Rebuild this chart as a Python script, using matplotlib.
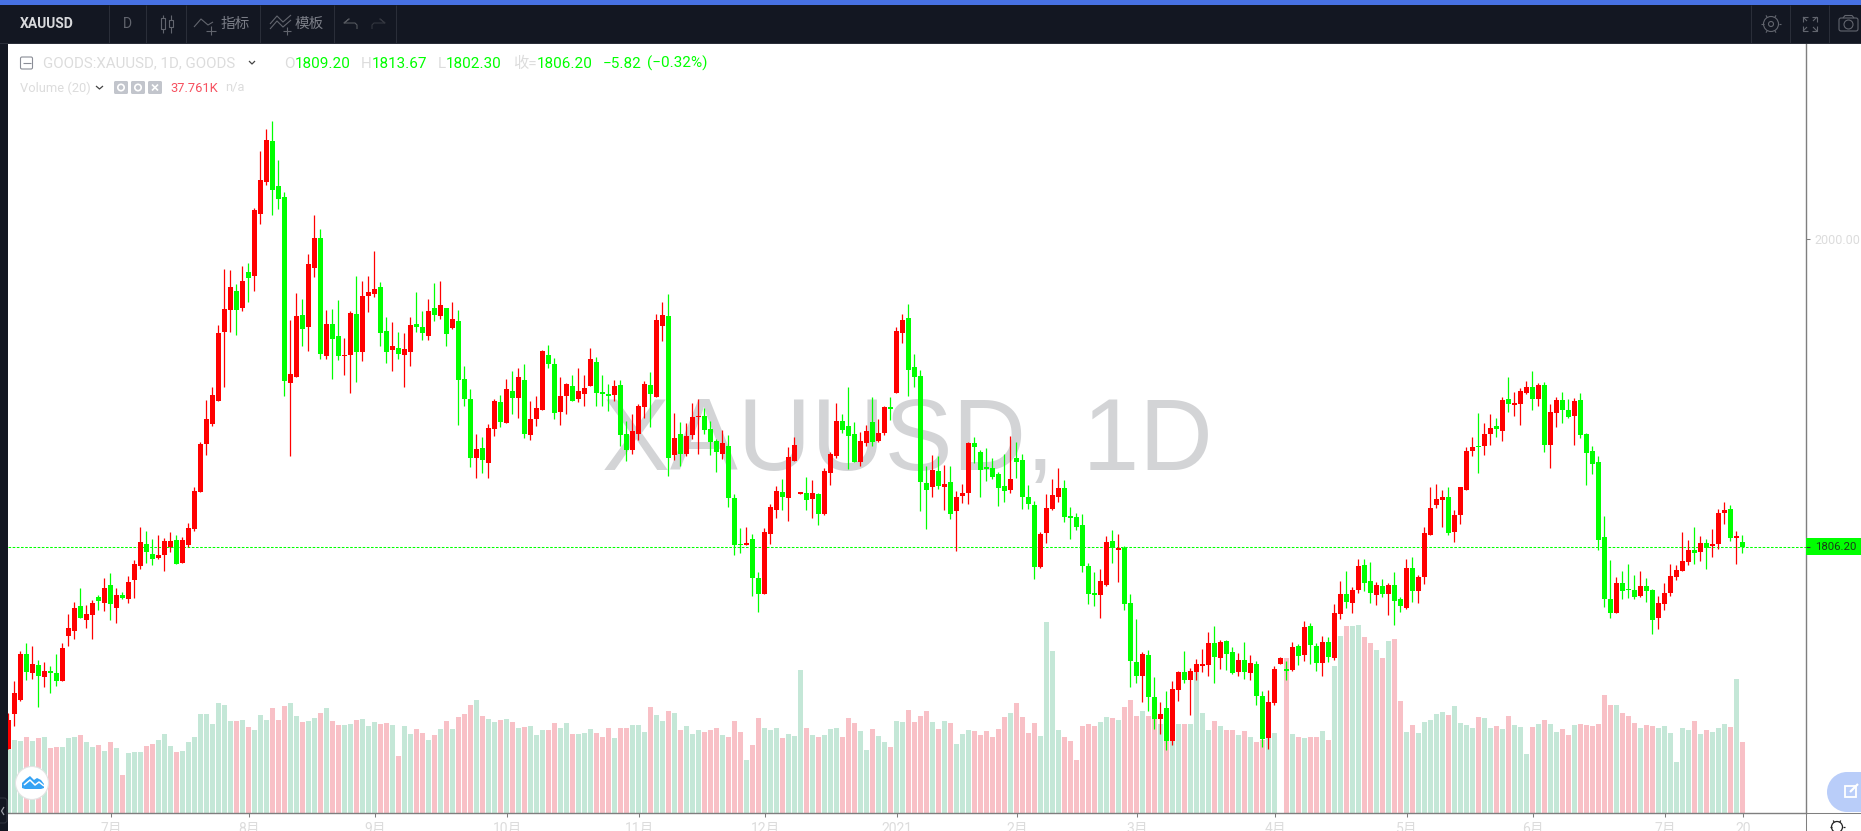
import numpy as np
import matplotlib
matplotlib.use('Agg')
import matplotlib.pyplot as plt
from matplotlib.patches import Circle, Rectangle, Polygon, FancyBboxPatch

plt.rcParams['font.family'] = ['Roboto', 'Noto Sans CJK SC', 'DejaVu Sans']

# XAUUSD daily candles
opens = [
    1678.4,1700.8,1709.6,1738.6,1726.6,1731.6,1724.0,1727.8,1726.6,1721.6,
    1749.8,1753.0,1768.9,1760.1,1763.0,1774.2,1770.7,1782.1,1767.4,1775.7,
    1773.3,1785.1,1793.9,1808.0,1801.5,1799.2,1800.9,1806.2,1810.3,1795.9,
    1807.1,1817.4,1840.6,1870.8,1883.4,1897.8,1941.3,1955.4,1967.1,1956.6,
    1979.2,1976.5,2015.6,2035.9,2061.7,2033.5,2026.5,1909.3,1913.1,1952.2,
    1944.5,1981.8,2000.6,1926.0,1946.6,1939.0,1926.3,1926.9,1952.8,1928.7,
    1964.2,1965.4,1969.8,1942.2,1930.1,1931.3,1926.9,1928.7,1946.6,1944.5,
    1939.0,1956.6,1951.6,1956.6,1943.9,1948.4,1911.7,1899.1,1862.0,1868.3,
    1858.7,1880.2,1897.2,1883.9,1904.0,1899.8,1911.0,1876.5,1886.5,1892.1,
    1926.9,1921.0,1890.9,1901.0,1907.3,1899.1,1902.1,1907.3,1922.4,1903.5,
    1902.1,1901.7,1908.0,1876.9,1866.9,1876.9,1894.0,1908.0,1900.3,1945.1,
    1951.4,1863.8,1876.9,1864.3,1876.5,1887.7,1888.4,1880.2,1872.7,1864.3,
    1869.5,1836.8,1807.8,1807.1,1810.9,1786.4,1776.3,1814.1,1829.1,1840.5,
    1836.8,1860.1,1839.1,1839.8,1836.1,1839.1,1826.7,1852.4,1863.1,1885.3,
    1882.1,1876.9,1859.4,1871.3,1884.6,1872.7,1877.6,1894.0,1902.8,1940.6,
    1950.0,1919.1,1913.6,1846.1,1843.6,1853.6,1843.6,1846.7,1828.6,1838.1,
    1839.9,1871.3,1865.8,1856.2,1855.6,1851.8,1844.3,1841.6,1861.8,1860.7,
    1837.2,1832.3,1793.1,1814.6,1829.7,1837.2,1843.0,1825.2,1824.8,1819.7,
    1793.8,1776.8,1775.6,1781.8,1809.5,1804.0,1805.1,1770.6,1733.4,1724.5,
    1737.8,1711.2,1697.5,1704.4,1683.5,1715.6,1726.9,1722.1,1726.9,1730.9,
    1731.4,1745.3,1735.8,1746.6,1739.6,1726.9,1734.7,1726.5,1732.0,1711.9,
    1685.5,1707.5,1732.0,1728.9,1728.3,1743.3,1737.8,1755.9,1743.3,1732.7,
    1746.0,1735.8,1763.7,1776.1,1770.6,1778.7,1794.4,1784.4,1775.5,1781.2,
    1776.2,1781.8,1773.0,1767.3,1792.5,1778.1,1786.9,1813.3,1832.2,1835.4,
    1837.3,1815.2,1825.9,1841.7,1866.3,1869.4,1869.4,1877.0,1882.0,1878.9,
    1899.0,1895.2,1895.9,1902.8,1906.6,1899.0,1907.8,1870.0,1890.2,1898.4,
    1892.1,1888.3,1898.4,1877.0,1866.3,1859.3,1812.1,1773.0,1764.2,1783.1,
    1779.3,1778.7,1774.9,1781.2,1778.7,1761.0,1769.9,1776.8,1786.9,1790.7,
    1796.3,1803.9,1802.6,1808.3,1806.4,1807.7,1827.2,1829.7,1811.5,1809.2,
]
closes = [
    1696.9,1714.0,1738.6,1727.2,1732.2,1724.6,1727.8,1726.6,1721.6,1742.5,
    1754.8,1767.4,1761.3,1763.6,1770.7,1771.8,1780.1,1770.1,1775.7,1773.9,
    1783.9,1795.3,1809.1,1802.7,1798.3,1800.9,1809.7,1809.7,1795.3,1810.3,
    1817.9,1841.2,1870.8,1886.7,1901.7,1940.7,1956.0,1969.8,1955.4,1973.6,
    1975.4,2018.3,2037.0,2062.3,2030.9,2025.3,1910.5,1914.9,1951.6,1943.4,
    1984.2,2000.6,1927.5,1946.6,1936.9,1926.0,1926.9,1953.3,1928.7,1964.2,
    1966.6,1968.6,1940.7,1928.7,1932.5,1927.5,1930.7,1945.7,1944.5,1940.7,
    1954.5,1952.2,1958.3,1940.1,1949.5,1911.1,1899.1,1862.0,1867.6,1860.6,
    1880.9,1897.7,1884.6,1905.4,1899.8,1912.9,1876.9,1886.5,1893.5,1929.2,
    1921.0,1890.2,1901.0,1908.4,1897.7,1904.0,1906.1,1924.3,1902.8,1902.4,
    1901.2,1907.3,1876.5,1866.9,1879.0,1894.7,1908.4,1902.1,1948.8,1952.1,
    1862.0,1874.6,1864.3,1875.8,1887.7,1888.4,1879.5,1872.0,1865.7,1871.3,
    1836.8,1807.1,1807.1,1808.3,1786.4,1776.3,1815.3,1830.9,1841.2,1837.2,
    1862.4,1870.2,1840.5,1835.4,1839.8,1826.7,1853.8,1864.3,1885.3,1879.5,
    1875.8,1859.4,1872.7,1879.0,1872.0,1877.6,1894.0,1892.8,1941.8,1948.8,
    1917.3,1912.9,1846.7,1841.6,1854.2,1844.3,1845.4,1826.6,1837.2,1839.9,
    1871.3,1868.9,1854.2,1854.9,1849.8,1843.0,1841.2,1848.7,1859.3,1837.2,
    1833.0,1793.1,1813.9,1830.3,1838.5,1843.0,1824.8,1824.1,1818.4,1793.8,
    1776.1,1775.6,1784.3,1808.9,1805.1,1805.1,1769.9,1734.0,1724.5,1738.5,
    1711.2,1697.5,1700.6,1683.5,1716.3,1726.9,1722.1,1727.6,1732.0,1732.0,
    1745.3,1736.5,1746.0,1738.5,1726.5,1734.7,1726.9,1732.7,1711.9,1684.9,
    1708.1,1728.9,1735.8,1727.6,1742.9,1737.1,1755.5,1744.0,1732.7,1746.0,
    1736.5,1764.1,1776.1,1771.2,1778.7,1793.8,1783.1,1776.8,1781.8,1776.2,
    1781.8,1771.8,1768.6,1792.5,1778.1,1786.9,1814.6,1830.4,1836.0,1837.3,
    1814.6,1825.9,1843.6,1866.3,1868.8,1868.8,1877.0,1880.8,1880.1,1898.4,
    1895.9,1896.5,1904.1,1906.6,1899.0,1907.8,1870.0,1890.8,1898.4,1892.1,
    1887.7,1897.8,1876.3,1865.0,1858.1,1810.2,1773.0,1764.2,1783.1,1778.1,
    1778.7,1774.3,1781.2,1778.1,1759.8,1770.5,1776.8,1787.5,1791.3,1797.0,
    1803.9,1802.0,1808.3,1805.1,1807.7,1827.2,1829.1,1811.5,1812.7,1806.2,
]
highs = [
    1701.3,1721.6,1740.4,1745.4,1743.6,1734.5,1733.7,1731.0,1738.6,1745.4,
    1763.6,1771.2,1780.1,1769.5,1772.4,1775.7,1786.5,1789.5,1780.1,1777.7,
    1787.7,1797.7,1818.5,1816.2,1810.9,1813.5,1811.5,1815.3,1813.5,1812.4,
    1820.9,1843.8,1872.0,1898.4,1906.6,1945.7,1981.0,1980.4,1971.8,1983.0,
    1984.8,2019.4,2055.6,2069.4,2074.3,2049.7,2029.7,1948.9,1966.0,1962.2,
    1990.6,2015.0,2006.2,1955.4,1956.0,1961.3,1937.5,1954.5,1976.5,1973.6,
    1976.5,1992.4,1973.0,1951.0,1947.8,1941.3,1940.7,1951.0,1966.6,1954.5,
    1962.2,1972.1,1973.6,1956.6,1960.4,1955.4,1919.9,1905.2,1876.9,1875.1,
    1883.2,1898.9,1901.9,1911.7,1916.6,1918.5,1921.0,1897.7,1901.0,1929.9,
    1933.2,1925.2,1912.9,1909.1,1914.3,1918.5,1914.3,1931.3,1925.5,1914.3,
    1908.4,1911.0,1911.0,1885.3,1889.5,1895.8,1910.3,1916.1,1952.5,1960.2,
    1965.1,1890.2,1884.6,1883.9,1896.5,1899.1,1893.3,1885.3,1873.9,1879.5,
    1876.5,1839.1,1817.9,1818.3,1814.1,1790.1,1817.9,1832.8,1844.2,1848.7,
    1868.8,1875.1,1840.5,1849.8,1848.0,1839.8,1855.7,1865.7,1896.5,1889.5,
    1906.6,1884.6,1878.3,1882.8,1900.3,1886.5,1894.7,1900.3,1944.4,1952.5,
    1958.8,1927.3,1917.3,1856.9,1863.8,1863.1,1857.6,1856.9,1841.2,1845.4,
    1872.0,1875.1,1866.9,1868.2,1861.8,1853.1,1864.4,1875.7,1872.0,1864.4,
    1844.9,1834.8,1815.3,1839.2,1848.7,1855.6,1848.0,1831.0,1827.2,1826.6,
    1795.6,1790.0,1792.0,1812.6,1816.6,1813.9,1806.4,1776.1,1760.4,1739.6,
    1740.9,1723.8,1708.1,1715.0,1721.4,1727.6,1740.2,1729.6,1735.1,1741.6,
    1752.2,1755.9,1747.1,1747.1,1742.9,1739.1,1746.0,1737.8,1734.0,1715.0,
    1715.6,1730.9,1736.5,1734.0,1746.0,1744.7,1759.3,1757.9,1745.3,1749.7,
    1749.1,1769.9,1784.3,1790.7,1780.5,1798.2,1798.2,1796.3,1783.7,1785.6,
    1783.1,1790.0,1774.3,1798.2,1799.5,1788.1,1818.4,1843.6,1845.5,1841.7,
    1843.6,1829.1,1843.6,1868.8,1875.1,1890.2,1883.9,1889.6,1887.1,1900.3,
    1912.9,1903.4,1906.0,1910.4,1916.7,1909.1,1909.7,1895.9,1900.3,1903.4,
    1899.0,1899.7,1902.8,1877.6,1869.4,1863.1,1825.3,1797.6,1786.9,1790.7,
    1795.1,1788.1,1790.7,1786.2,1779.3,1774.9,1783.1,1795.1,1794.4,1815.2,
    1810.2,1818.4,1812.7,1810.8,1817.1,1829.7,1834.1,1832.2,1815.9,1813.67,
]
lows = [
    1678.4,1693.4,1709.0,1722.2,1722.8,1705.2,1717.8,1714.0,1718.1,1721.6,
    1743.6,1748.0,1761.3,1754.8,1748.0,1766.3,1765.7,1760.1,1758.0,1773.0,
    1770.7,1773.9,1792.1,1795.9,1794.7,1798.3,1790.9,1802.7,1795.3,1795.9,
    1806.2,1816.2,1840.6,1864.1,1882.0,1897.8,1906.6,1941.3,1939.5,1954.5,
    1960.4,1967.1,2009.4,2034.1,2015.0,2018.8,1901.1,1863.2,1913.1,1932.5,
    1929.6,1976.0,1924.3,1924.3,1911.9,1923.7,1914.3,1903.1,1909.9,1923.1,
    1953.9,1963.3,1932.5,1921.9,1916.9,1924.3,1906.6,1919.9,1941.3,1936.6,
    1936.6,1948.4,1949.5,1932.5,1943.4,1882.9,1894.7,1856.1,1849.4,1852.4,
    1849.4,1875.8,1881.4,1883.9,1889.5,1887.2,1874.6,1873.2,1882.1,1892.1,
    1918.7,1886.5,1882.8,1889.5,1897.7,1897.2,1894.7,1907.3,1894.7,1894.7,
    1891.4,1897.7,1869.5,1860.1,1864.3,1873.2,1887.2,1881.4,1900.3,1935.5,
    1850.5,1860.6,1856.8,1863.1,1873.9,1864.3,1876.9,1863.8,1853.1,1861.3,
    1830.9,1800.8,1802.0,1807.1,1774.9,1764.9,1776.3,1807.8,1824.2,1829.1,
    1822.3,1860.1,1839.1,1829.1,1824.2,1819.7,1826.0,1844.9,1862.0,1877.6,
    1855.0,1859.4,1856.8,1869.5,1869.5,1872.0,1876.5,1885.8,1902.8,1934.3,
    1901.0,1906.7,1828.6,1817.0,1837.2,1842.3,1829.0,1823.5,1803.3,1833.4,
    1833.0,1858.7,1837.2,1847.4,1848.7,1831.7,1834.1,1839.9,1849.4,1829.7,
    1829.7,1785.6,1792.5,1808.4,1829.0,1834.1,1821.5,1810.8,1816.6,1790.0,
    1769.9,1768.6,1761.0,1781.2,1795.6,1783.6,1766.1,1717.6,1720.1,1708.1,
    1702.4,1691.1,1688.0,1678.0,1681.1,1708.8,1720.1,1699.9,1722.1,1726.9,
    1724.5,1720.1,1728.9,1728.3,1725.8,1724.5,1722.7,1722.1,1706.3,1679.8,
    1678.5,1706.3,1732.0,1722.1,1727.6,1731.4,1734.0,1732.0,1727.6,1724.5,
    1733.4,1734.7,1760.4,1767.5,1764.1,1776.8,1778.1,1770.5,1769.2,1774.3,
    1762.9,1756.6,1764.8,1766.7,1771.1,1770.5,1782.5,1813.3,1830.4,1818.4,
    1813.3,1808.9,1820.3,1841.7,1863.1,1852.4,1863.7,1870.0,1875.1,1872.6,
    1890.8,1888.3,1882.6,1902.2,1892.1,1894.6,1865.6,1855.6,1881.4,1883.9,
    1887.1,1870.0,1874.5,1844.8,1851.8,1803.9,1768.0,1761.0,1764.2,1773.0,
    1773.6,1773.0,1774.3,1771.1,1751.0,1754.1,1766.1,1774.9,1785.0,1790.7,
    1794.4,1795.1,1797.0,1791.9,1799.5,1804.5,1820.3,1809.6,1795.1,1802.3,
]
# volume in thousands, the last one is the 37.761K of the legend
volumes = [
    38.8,38.5,38.0,40.2,38.0,39.5,40.2,34.3,34.8,34.8,
    39.5,40.2,41.2,37.5,34.8,35.8,32.8,37.5,34.3,20.0,
    31.6,32.1,32.1,35.3,36.5,38.5,41.7,35.3,32.1,32.8,
    37.5,40.2,52.3,52.3,47.2,58.3,57.0,48.6,48.6,49.1,
    45.4,43.9,51.8,49.1,55.6,49.1,56.5,58.3,51.4,48.1,
    48.6,50.1,52.8,55.6,48.6,46.4,46.4,47.2,49.1,49.6,
    45.9,48.1,47.2,47.7,46.4,30.1,45.9,41.7,44.4,42.2,
    38.5,41.2,44.4,48.6,44.4,50.9,52.6,57.3,60.0,51.4,
    49.8,48.3,49.4,49.8,48.3,45.1,45.7,46.1,41.4,44.1,
    44.1,47.7,45.1,47.7,42.0,42.0,42.4,44.5,42.4,40.4,
    45.1,39.8,45.1,45.1,46.7,46.7,43.0,56.3,52.0,48.9,
    54.2,53.0,44.1,46.1,42.0,44.1,43.0,44.1,45.1,41.4,
    40.4,48.9,43.0,28.3,36.1,50.4,45.1,44.1,45.1,39.8,
    42.0,40.8,75.9,45.1,41.4,40.4,41.4,44.5,45.1,40.4,
    50.4,47.7,43.6,33.6,44.5,40.8,37.7,35.1,48.9,48.3,
    54.7,48.4,51.5,54.2,48.4,44.7,48.9,47.8,36.3,42.1,
    44.1,43.5,41.5,43.5,40.0,44.7,50.6,53.2,58.4,50.6,
    42.6,47.8,40.9,101.4,86.0,43.7,40.4,38.3,28.3,46.3,
    47.3,46.3,48.4,50.6,50.1,49.5,56.4,59.6,51.5,53.8,
    51.5,49.9,47.1,42.4,47.1,47.3,47.3,46.9,75.0,53.2,
    44.1,48.9,46.3,43.7,43.7,41.5,43.2,40.4,37.8,38.7,
    40.6,42.6,0.0,82.3,42.1,40.4,39.5,40.0,40.0,43.2,
    38.9,77.6,94.0,99.2,98.8,99.7,93.4,90.2,86.5,82.2,
    91.3,92.3,59.5,43.1,46.8,42.5,48.4,49.4,52.6,53.7,
    52.1,56.8,47.8,46.8,45.2,51.0,50.5,45.2,46.2,44.7,
    51.5,46.8,45.7,31.4,45.7,47.3,49.4,47.3,43.1,44.7,
    41.5,46.8,47.3,46.8,46.2,47.3,62.7,57.4,57.4,53.1,
    51.5,47.8,45.2,46.8,46.2,45.2,46.2,42.5,27.2,45.2,
    44.1,48.9,42.0,44.1,43.1,45.2,47.3,45.7,71.1,37.761,
]

month_idx = [17, 40, 61, 83, 105, 126, 148, 168, 188, 211, 233, 254, 276, 289]
month_labels = ['7月', '8月', '9月', '10月', '11月', '12月', '2021', '2月', '3月', '4月', '5月', '6月', '7月', '20']
last_price = 1806.20

W, H = 1861, 831
UP, DOWN = '#ff0000', '#00ff00'
VOL_UP, VOL_DOWN = '#c4e7d7', '#f8c0c6'
GREY = '#7f7f7f'
PALE = '#dcdcdc'
DARK = '#131722'
LINE = '#2a2e39'
ICON = '#62656e'

o = np.array(opens)
c = np.array(closes)
hi = np.array(highs)
lo = np.array(lows)
vol = np.array(volumes)
x = np.arange(len(o))
up = c >= o

fig = plt.figure(figsize=(W / 100, H / 100), dpi=100, facecolor='white')
rect = [8 / W, (H - 813) / H, (1806 - 8) / W, (813 - 44) / H]

# volume sits on its own scale behind the candles
ax_v = fig.add_axes(rect)
ax_v.set_xlim(-0.055, 299.61)
ax_v.set_ylim(0, 407.3)
ax_v.axis('off')
ax_v.bar(x, vol, width=5 / 6, color=[VOL_UP if u else VOL_DOWN for u in up], linewidth=0, antialiased=False)

ax = fig.add_axes(rect)
ax.patch.set_alpha(0)
ax.set_xlim(-0.055, 299.61)
ax.set_ylim(1638.3, 2122.8)
ax.axhline(last_price, color=DOWN, lw=0.75, dashes=(2.5, 1.5), zorder=1)
colors = [UP if u else DOWN for u in up]
ax.vlines(x, lo, hi, colors=colors, lw=0.9, zorder=2)
ax.bar(x, np.maximum(np.abs(c - o), 0.6), bottom=np.minimum(o, c), width=5 / 6, color=colors, linewidth=0,
       antialiased=False, zorder=3)

for s in ['top', 'left']:
    ax.spines[s].set_visible(False)
for s in ['bottom', 'right']:
    ax.spines[s].set_color(GREY)
    ax.spines[s].set_linewidth(1)
ax.set_xticks(np.array(month_idx) + 0.15)
ax.set_xticklabels(month_labels)
ax.tick_params(axis='x', length=3, width=0.75, color=GREY, labelcolor=PALE, labelsize=10, pad=3.5)
ax.yaxis.tick_right()
ax.set_yticks([2000])
ax.set_yticklabels(['2000.00'])
ax.tick_params(axis='y', length=3, width=0.75, color=GREY, labelcolor=PALE, labelsize=9, pad=3)

# everything around the chart is drawn in pixel coordinates on top
ui = fig.add_axes([0, 0, 1, 1], facecolor='none')
ui.set_xlim(0, W)
ui.set_ylim(H, 0)
ui.axis('off')


def box(x0, y0, x1, y1, color, **kw):
    ui.add_patch(Rectangle((x0, y0), x1 - x0, y1 - y0, facecolor=color, edgecolor='none', **kw))


def line(xs, ys, color=ICON, lw=0.8):
    ui.plot(xs, ys, color=color, lw=lw, solid_capstyle='butt')


# watermark goes under the candles
ax_v.text(602, 470, 'XAUUSD, 1D', transform=ui.transData, fontsize=73.3, color='#d3d4d6', family='Liberation Sans',
          ha='left', va='baseline', zorder=-1)

box(0, 0, W, 5, '#4771e3')
box(0, 5, W, 43, DARK)
box(0, 43, W, 44, LINE)
box(0, 44, 8, H, DARK)
line([1806, 1806], [813, H], GREY, 0.75)
line([1806, W], [813, 813], GREY, 0.75)
for sep in [108.7, 146.4, 185.7, 259.7, 333.7, 396.4, 1751, 1790, 1829]:
    line([sep, sep], [5, 43], LINE, 0.75)

ui.text(20, 24, 'XAUUSD', color='#d8d9dc', fontsize=10, fontweight='bold', va='center')
ui.text(127.5, 24, 'D', color=ICON, fontsize=10, va='center', ha='center')
ui.text(221, 24, '指标', color='#7b7e87', fontsize=10.5, va='center')
ui.text(295, 24, '模板', color='#7b7e87', fontsize=10.5, va='center')

# candle icon
for cx, y0, y1, w0, w1 in [(163, 18, 29, 15, 33), (171, 20, 27, 15, 33)]:
    ui.add_patch(Rectangle((cx - 2, y0), 4, y1 - y0, fill=False, edgecolor=ICON, lw=0.8))
    line([cx, cx], [w0, y0])
    line([cx, cx], [y1, w1])
# indicator and template icons
line([194, 201, 208, 213], [27, 19, 25, 22])
line([206, 216], [31, 31])
line([211, 211], [26, 35])
line([270, 277, 283, 291], [24, 16, 22, 15])
line([270, 277, 283, 291], [29, 21, 27, 20])
line([283, 291], [31, 31])
line([287, 287], [27, 35])
# undo and redo
line([344, 349, 344, 355, 357, 357], [23, 19, 23, 23, 25, 29], '#55585f')
line([385, 380, 385, 374, 372, 372], [23, 19, 23, 23, 25, 29], '#33363f')
# right side icons
ui.add_patch(Circle((1771, 24), 2.5, fill=False, edgecolor=ICON, lw=0.8))
ui.add_patch(Circle((1771, 24), 7.5, fill=False, edgecolor=ICON, lw=0.8))
for a in np.arange(0, 360, 60):
    dx, dy = np.cos(np.radians(a)), np.sin(np.radians(a))
    line([1771 + 7.5 * dx, 1771 + 10 * dx], [24 + 7.5 * dy, 24 + 10 * dy])
for sx, sy in [(-1, -1), (1, -1), (-1, 1), (1, 1)]:
    cx, cy = 1810 + sx * 7, 24 + sy * 7
    line([cx, cx, cx - sx * 5], [cy - sy * 5, cy, cy])
    line([cx, cx - sx * 4], [cy, cy - sy * 4])
ui.add_patch(FancyBboxPatch((1839, 18), 19, 13, boxstyle='round,pad=0,rounding_size=2', fill=False, edgecolor=ICON, lw=0.8))
ui.add_patch(Circle((1848.5, 24.5), 4.5, fill=False, edgecolor=ICON, lw=0.8))
line([1843, 1845, 1852, 1854], [18, 15.5, 15.5, 18])

# legend lines
ui.add_patch(FancyBboxPatch((20.5, 57), 12, 12, boxstyle='round,pad=0,rounding_size=1.5', fill=False, edgecolor='#8a8d96', lw=0.8))
line([23, 30.5], [63, 63], '#8a8d96')
ui.text(43, 63.5, 'GOODS:XAUUSD, 1D, GOODS', color=PALE, fontsize=10.8, va='center')
line([249, 252, 255], [61, 64, 61], '#444444', 0.9)
for px, label, col in [(284, 'O', PALE), (295, '1809.20', DOWN), (361, 'H', PALE), (372, '1813.67', DOWN),
                       (438, 'L', PALE), (446, '1802.30', DOWN), (513, '收=', PALE), (537, '1806.20', DOWN),
                       (603, '\u22125.82', DOWN), (647, '(\u22120.32%)', DOWN)]:
    ui.text(px, 63.5, label, color=col, fontsize=11, va='center')
ui.text(20, 88, 'Volume (20)', color=PALE, fontsize=9.3, va='center')
line([96, 99.5, 103], [86, 89, 86], '#444444', 0.9)
for bx, mark in [(114, 'o'), (131, 'o'), (148, 'x')]:
    ui.add_patch(FancyBboxPatch((bx, 81), 14, 13, boxstyle='round,pad=0,rounding_size=1.5', facecolor='#c2c5cc', edgecolor='none'))
    if mark == 'o':
        ui.add_patch(Circle((bx + 7, 87.5), 3.2, fill=False, edgecolor='white', lw=1.2))
    else:
        line([bx + 4, bx + 10], [84.5, 90.5], 'white', 1.2)
        line([bx + 10, bx + 4], [84.5, 90.5], 'white', 1.2)
ui.text(170, 88, '37.761K', color='#f6505f', fontsize=9.3, va='center')
ui.text(225, 88, 'n/a', color=PALE, fontsize=9.3, va='center')

# last price tag
box(1806, 538, W, 555, DOWN)
line([1806, 1810], [546.5, 546.5], '#333333', 0.75)
ui.text(1815, 546.8, '1806.20', color='#1a3a1a', fontsize=8.2, va='center')

# logo bottom left
ui.add_patch(Circle((32, 783), 16.5, facecolor='white', edgecolor='#e3e3e3', lw=0.8))
ui.add_patch(Polygon([(22, 788), (22, 783), (26, 779), (30, 776), (34, 780), (37, 778), (41, 780), (44, 784), (44, 788), (41, 789),
                      (25, 789)], closed=True, facecolor='#35a3f4', edgecolor='none'))
line([24, 30, 35, 39, 44], [785, 780, 785, 782, 786], 'white', 1.1)
ui.add_patch(FancyBboxPatch((-3, 798), 10, 25, boxstyle='round,pad=0,rounding_size=3', facecolor=DARK, edgecolor='#2e323d', lw=0.8))
line([4, 1.5, 4], [807, 811, 815], '#9a9da5', 0.9)

# feedback button and settings gear, bottom right
ui.add_patch(Circle((1847, 792), 20, facecolor='#b9cdf9', edgecolor='none'))
box(1847, 772, W, 812, '#b9cdf9')
ui.add_patch(Rectangle((1845, 786), 11, 11, fill=False, edgecolor='white', lw=1.3))
line([1850, 1858], [792, 784], 'white', 1.6)
ui.add_patch(Circle((1837, 827), 5.5, fill=False, edgecolor='#222222', lw=0.9))
for a in np.arange(0, 360, 60):
    dx, dy = np.cos(np.radians(a)), np.sin(np.radians(a))
    line([1837 + 5.5 * dx, 1837 + 7.5 * dx], [827 + 5.5 * dy, 827 + 7.5 * dy], '#222222', 0.9)

fig.savefig('out.png', dpi=100)
